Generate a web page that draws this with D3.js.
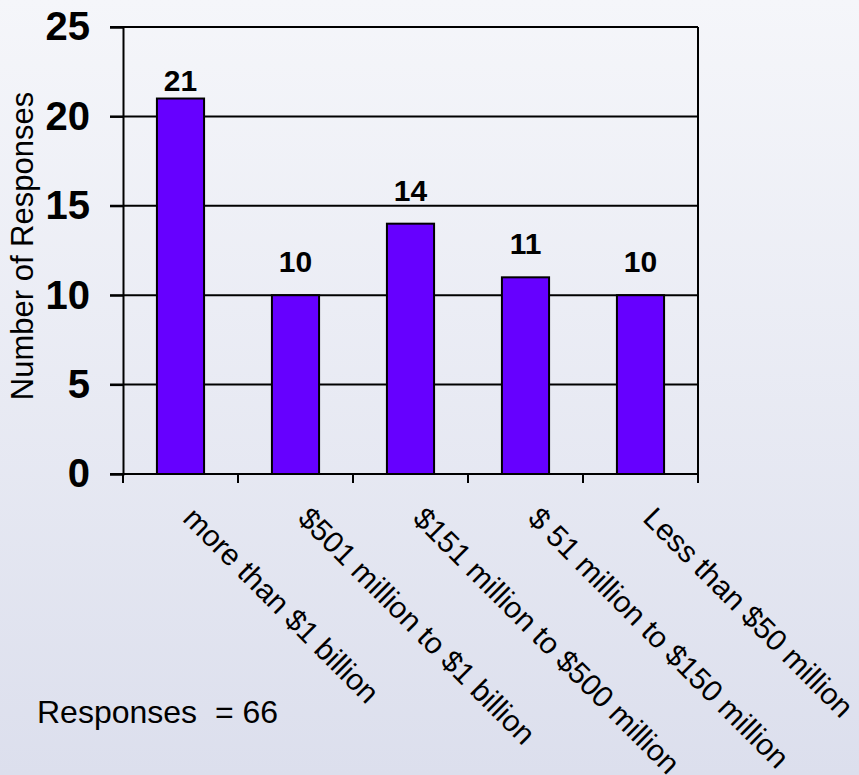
<!DOCTYPE html>
<html>
<head>
<meta charset="utf-8">
<script src="https://cdn.jsdelivr.net/npm/d3@7"></script>
<style>
  html, body { margin: 0; padding: 0; }
  body { width: 859px; height: 775px; overflow: hidden; }
  svg { display: block; font-family: "Liberation Sans", Arial, sans-serif; }
</style>
</head>
<body>
<svg id="chart" width="859" height="775"></svg>
<script>
// Survey responses grouped by organisation budget
const categories = [
  "more than $1 billion",
  "$501 million to $1 billion",
  "$151 million to $500 million",
  "$ 51 million to $150 million",
  "Less than $50 million"
];
const responses = [21, 10, 14, 11, 10];
const yTicks = [0, 5, 10, 15, 20, 25];
const yTitle = "Number of Responses";
const totalNote = "Responses  = 66";

const svg = d3.select("#chart");
const W = 859, H = 775;

// soft vertical background gradient
const defs = svg.append("defs");
const grad = defs.append("linearGradient")
  .attr("id", "bg").attr("x1", 0).attr("y1", 0).attr("x2", 0).attr("y2", 1);
grad.append("stop").attr("offset", "0%").attr("stop-color", "#f5f6fa");
grad.append("stop").attr("offset", "100%").attr("stop-color", "#dcdfed");
svg.append("rect").attr("width", W).attr("height", H).attr("fill", "url(#bg)");

const plot = { left: 123, right: 698, top: 27, bottom: 474 };

const x = d3.scaleBand()
  .domain(categories)
  .range([plot.left, plot.right])
  .paddingInner(0).paddingOuter(0);

const y = d3.scaleLinear()
  .domain([0, 25])
  .range([plot.bottom, plot.top]);

// horizontal gridlines (they run a little past the axis as ticks)
svg.append("g")
  .selectAll("line")
  .data(yTicks)
  .join("line")
  .attr("x1", plot.left - 13)
  .attr("x2", plot.right)
  .attr("y1", d => y(d))
  .attr("y2", d => y(d))
  .attr("stroke", "#000")
  .attr("stroke-width", 2);

// right border of the plot
svg.append("line")
  .attr("x1", plot.right).attr("x2", plot.right)
  .attr("y1", y(25)).attr("y2", y(0))
  .attr("stroke", "#000").attr("stroke-width", 2);

// y axis with bold tick labels
const yAxis = svg.append("g")
  .attr("transform", `translate(${plot.left},0)`)
  .call(d3.axisLeft(y).tickValues(yTicks).tickSize(13).tickPadding(20).tickFormat(d3.format("d")));
yAxis.select(".domain").attr("stroke", "#000").attr("stroke-width", 2);
yAxis.selectAll(".tick line").attr("stroke", "#000").attr("stroke-width", 2);
yAxis.selectAll(".tick text")
  .attr("fill", "#000")
  .style("font-size", "40px")
  .style("font-weight", "bold")
  .style("font-family", "'Liberation Sans', Arial, sans-serif");

// x ticks at the band boundaries
const boundaries = categories.map(c => x(c)).concat([x.range()[1]]);
svg.append("g")
  .selectAll("line")
  .data(boundaries)
  .join("line")
  .attr("x1", d => d).attr("x2", d => d)
  .attr("y1", plot.bottom).attr("y2", plot.bottom + 9)
  .attr("stroke", "#000").attr("stroke-width", 2);

// bars
const barW = x.bandwidth() * 0.41;
svg.append("g")
  .selectAll("rect")
  .data(responses)
  .join("rect")
  .attr("x", (d, i) => x(categories[i]) + x.bandwidth() / 2 - barW / 2)
  .attr("y", d => y(d))
  .attr("width", barW)
  .attr("height", d => y(0) - y(d))
  .attr("fill", "#6600ff")
  .attr("stroke", "#000")
  .attr("stroke-width", 2);

// value labels above the bars; the tallest bar keeps its label tucked close
svg.append("g")
  .selectAll("text")
  .data(responses)
  .join("text")
  .attr("x", (d, i) => x(categories[i]) + x.bandwidth() / 2)
  .attr("y", d => y(d) - (d > 20 ? 8 : 23))
  .attr("text-anchor", "middle")
  .attr("fill", "#000")
  .style("font-size", "30px")
  .style("font-weight", "bold")
  .text(d => d);

// rotated category labels
svg.append("g")
  .selectAll("text")
  .data(categories)
  .join("text")
  .attr("transform", d => `translate(${x(d) + x.bandwidth() / 2 + 1},${plot.bottom + 46}) rotate(45)`)
  .attr("text-anchor", "start")
  .attr("fill", "#000")
  .style("font-size", "30px")
  .text(d => d);

// y axis title
svg.append("text")
  .attr("transform", "translate(33,246) rotate(-90)")
  .attr("text-anchor", "middle")
  .attr("fill", "#000")
  .style("font-size", "31px")
  .text(yTitle);

// total count note
svg.append("text")
  .attr("x", 37)
  .attr("y", 723)
  .attr("fill", "#000")
  .attr("xml:space", "preserve")
  .style("white-space", "pre")
  .style("font-size", "32px")
  .text(totalNote);
</script>
</body>
</html>
